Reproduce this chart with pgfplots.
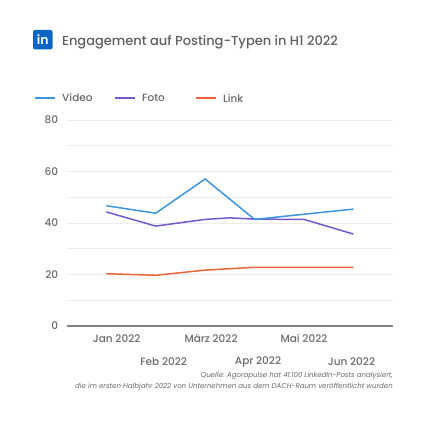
\documentclass[border=0pt]{standalone}
\usepackage{pgfplots}
\pgfplotsset{compat=1.18}
\usepackage{fontspec}
\setmainfont{Poppins}[UprightFont={* Medium}, ItalicFont={* Italic}, BoldFont={* SemiBold}]
\definecolor{cvideo}{HTML}{3D96DD}
\definecolor{cfoto}{HTML}{7558CF}
\definecolor{clink}{HTML}{E8653A}
\definecolor{ctext}{HTML}{6A6A6A}
\definecolor{cgrid}{HTML}{EDEDED}
\definecolor{cli}{HTML}{0A66C2}
\begin{document}
\begin{tikzpicture}[x=1pt,y=1pt]
\fill[white] (0,0) rectangle (428,428);
% title
\fill[cli, rounded corners=2pt] (33,378.5) rectangle (52.5,398);
\node[white, font=\bfseries\fontsize{12.5}{12.5}\selectfont] at (42.8,388) {in};
\node[anchor=west, text=ctext!90!black, inner sep=0, font=\fontsize{13}{15}\selectfont] at (62,386) {Engagement auf Posting-Typen in H1 2022};
% legend
\foreach \c/\xa/\t in {cvideo/35/Video, cfoto/115/Foto, clink/196/Link}{
  \draw[\c, line width=2pt] (\xa,330) -- (\xa+20,330);
  \node[anchor=west, text=ctext, inner sep=0, font=\fontsize{10.5}{12}\selectfont] at (\xa+27,330) {\t};
}
\begin{axis}[
  at={(66.7pt,102pt)}, anchor=south west,
  scale only axis, width=326.3pt, height=206pt,
  xmin=-0.8, xmax=5.8, ymin=0, ymax=80,
  axis line style={draw=none},
  tick style={draw=none},
  ytick={0,20,40,60,80}, minor ytick={10,30,50,70},
  ymajorgrids, yminorgrids,
  major grid style={cgrid, line width=0.8pt},
  minor grid style={cgrid, line width=0.8pt},
  yticklabel style={text=ctext, font=\fontsize{10.5}{12}\selectfont, xshift=-5pt},
  xtick={0.21,2.12,4.0},
  xticklabels={Jan 2022, März 2022, Mai 2022},
  extra x ticks={1.16,3.07,4.96},
  extra x tick labels={Feb 2022, Apr 2022, Jun 2022},
  xticklabel style={text=ctext, font=\fontsize{10.5}{12}\selectfont, anchor=center, yshift=-13pt},
  extra x tick style={xticklabel style={yshift=-23pt}, grid=none},
  /pgf/number format/assume math mode=true,
  clip=false,
]
\draw[ctext!85, line width=1.6pt] (axis cs:-0.8,0) -- (axis cs:5.8,0);
\addplot[clink, line width=1.5pt] coordinates {(0,20.3)(1,19.7)(2,21.7)(3,22.8)(4,22.8)(5,22.8)};
\addplot[cfoto, line width=1.5pt] coordinates {(0,44.3)(1,38.8)(2,41.4)(2.5,42)(3,41.5)(4,41.4)(5,35.7)};
\addplot[cvideo, line width=1.5pt] coordinates {(0,46.7)(1,43.8)(2,57.1)(3,41.4)(4,43.4)(5,45.4)};
\end{axis}
% source
\node[anchor=east, text=ctext, inner sep=0, font=\itshape\fontsize{7}{8}\selectfont] at (393,52.5) {Quelle: Agorapulse hat 41.100 LinkedIn-Posts analysiert,};
\node[anchor=east, text=ctext, inner sep=0, font=\itshape\fontsize{7}{8}\selectfont] at (393,41.5) {die im ersten Halbjahr 2022 von Unternehmen aus dem DACH-Raum veröffentlicht wurden};
\end{tikzpicture}
\end{document}
